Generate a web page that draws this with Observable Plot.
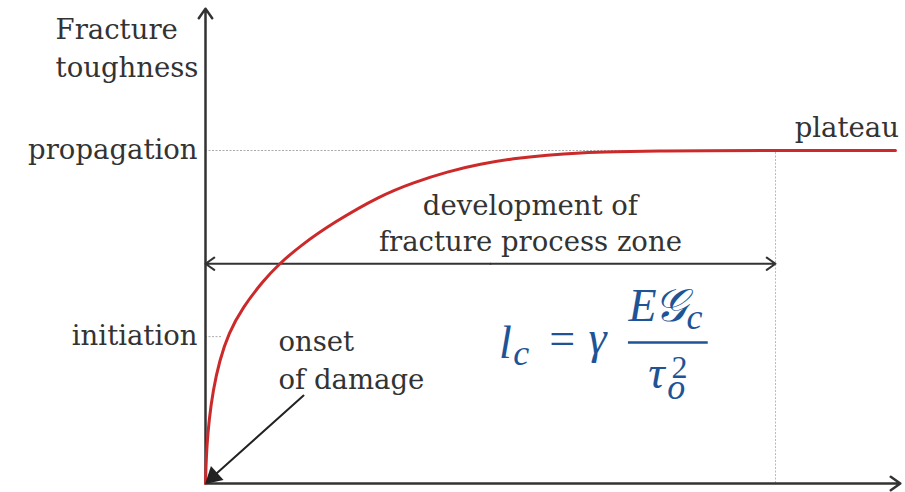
<!DOCTYPE html>
<html><head><meta charset="utf-8">
<script src="https://cdn.jsdelivr.net/npm/d3@7"></script>
<script src="https://cdn.jsdelivr.net/npm/@observablehq/plot@0.6"></script>
<style>html,body{margin:0;padding:0;background:#fff;}</style>
</head><body><div id="chart"></div>
<script>
// Red resistance curve (normalised: x = crack extension / process-zone length, y = toughness / plateau)
const curveX = [0, 0.0009, 0.0023, 0.0061, 0.0132, 0.0246, 0.0404, 0.0649, 0.1018, 0.1281, 0.1667, 0.2246, 0.3070, 0.3649, 0.4246, 0.4825, 0.5404, 0.6, 0.6579, 0.7158, 0.7982, 0.8684, 1.0, 1.2105];
const curveY = [0, 0.0541, 0.1081, 0.1892, 0.2793, 0.3694, 0.4505, 0.5285, 0.6096, 0.6577, 0.7147, 0.7838, 0.8649, 0.9039, 0.9369, 0.9595, 0.976, 0.9865, 0.9931, 0.9964, 0.9985, 0.9994, 1, 1];

// Y tick levels and labels
const yTicks = [0.441, 1];
const yTickLabels = ["initiation", "propagation"];

// Axis extents
const xAxisEnd = 1.219;
const yAxisEnd = 1.426;
const zoneEnd = 1;
const zoneArrowY = 0.66;

// Annotation text
const annTexts = ["Fracture\ntoughness", "plateau", "development of\nfracture process zone", "onset\nof damage"];
const annX = [-0.263, 1.125, 0.570, 0.128];
const annY = [1.314, 1.066, 0.787, 0.378];
const annAnchor = ["start", "middle", "middle", "start"];
const annLineHeight = [1.38, 1, 1.31, 1.38];

// Onset arrow
const onsetArrow = {x1: 0.172, y1: 0.264, x2: 0.006, y2: 0.010};
const onsetHead = {x: 0.0135, y: 0.0205, angle: 228};

// Formula pieces
const fTexts = ["l", "c", "=", "γ", "E", "𝒢", "c", "τ", "o", "2"];
const fX = [0.5263, 0.554, 0.626, 0.688, 0.7667, 0.8158, 0.858, 0.791, 0.826, 0.8316];
const fY = [0.4225, 0.389, 0.433, 0.4375, 0.5336, 0.5336, 0.500, 0.3324, 0.2898, 0.348];
const fSize = [46, 36, 46, 46, 46, 46, 36, 46, 36, 32];
const fItalic = [true, true, false, true, true, true, true, true, true, false];
const fBar = {x1: 0.742, x2: 0.882, y: 0.4234};

const ink = "#333";
const blue = "#1e5495";
const serif = "DejaVu Serif";
const fs = 27.5;

const curve = curveX.map((x, i) => ({x, y: curveY[i]}));
const ann = annTexts.map((t, i) => ({t, x: annX[i], y: annY[i], a: annAnchor[i], lh: annLineHeight[i]}));
const formula = fTexts.map((t, i) => ({t, x: fX[i], y: fY[i], s: fSize[i], it: fItalic[i]}));

const textMarks = ann.map(d => Plot.text([d], {
  x: "x", y: "y", text: "t", textAnchor: d.a, lineAnchor: "middle", lineHeight: d.lh,
  fontSize: fs, fontFamily: serif, fill: ink
}));
const formulaMarks = formula.map(d => Plot.text([d], {
  x: "x", y: "y", text: "t", textAnchor: "middle", lineAnchor: "middle",
  fontSize: d.s, fontFamily: "Liberation Serif", fontStyle: d.it ? "italic" : "normal", fill: blue
}));

const plot = Plot.plot({
  width: 905, height: 492,
  marginLeft: 205, marginRight: 130, marginTop: 150, marginBottom: 9,
  x: {domain: [0, 1], axis: null},
  y: {domain: [0, 1]},
  style: {fontFamily: serif, fontSize: fs + "px", color: ink, background: "#fff", overflow: "visible"},
  marks: [
    Plot.axisY({ticks: yTicks, tickFormat: (d, i) => yTickLabels[i], tickSize: 0, tickPadding: 8,
      fontSize: fs, fontFamily: serif, fill: ink}),
    // dotted guide lines
    Plot.ruleY([1], {x1: 0, x2: zoneEnd, stroke: "#aaa", strokeWidth: 1, strokeDasharray: "2,1.5"}),
    Plot.ruleY([yTicks[0]], {x1: 0, x2: 0.03, stroke: "#aaa", strokeWidth: 1, strokeDasharray: "2,1.5"}),
    Plot.ruleX([zoneEnd], {y1: 0, y2: 1, stroke: "#bbb", strokeWidth: 1, strokeDasharray: "2,1.5"}),
    // axes with arrows
    Plot.arrow([{x1: 0, y1: 0, x2: 0, y2: yAxisEnd}], {x1: "x1", y1: "y1", x2: "x2", y2: "y2", stroke: ink, strokeWidth: 2.5, headLength: 7, headAngle: 70}),
    Plot.arrow([{x1: 0, y1: 0, x2: xAxisEnd, y2: 0}], {x1: "x1", y1: "y1", x2: "x2", y2: "y2", stroke: ink, strokeWidth: 2.5, headLength: 7, headAngle: 70}),
    // double arrow for process zone
    Plot.arrow([{x1: zoneEnd / 2, x2: 0}, {x1: zoneEnd / 2, x2: zoneEnd}], {x1: "x1", x2: "x2", y1: zoneArrowY, y2: zoneArrowY, stroke: ink, strokeWidth: 2, headLength: 8, headAngle: 70}),
    // red curve
    Plot.line(curve, {x: "x", y: "y", stroke: "#cc2a2a", strokeWidth: 3, curve: "basis"}),
    // onset arrow
    Plot.arrow([onsetArrow], {x1: "x1", y1: "y1", x2: "x2", y2: "y2", stroke: "#222", strokeWidth: 2, headLength: 0.1}),
    Plot.dot([onsetHead], {x: "x", y: "y", symbol: "triangle", r: 7, rotate: "angle", fill: "#222", stroke: "none"}),
    ...textMarks,
    // fraction bar
    Plot.ruleY([fBar.y], {x1: fBar.x1, x2: fBar.x2, stroke: blue, strokeWidth: 2.5}),
    ...formulaMarks
  ]
});
document.getElementById("chart").appendChild(plot);
</script>
</body></html>
